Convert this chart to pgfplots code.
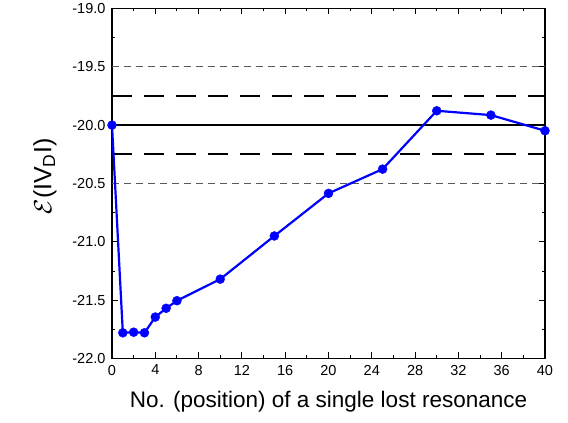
\documentclass[border=0pt]{standalone}
\usepackage{pgfplots}
\pgfplotsset{compat=1.18}
\usepackage{fontspec}
\setmainfont{Liberation Sans}
\begin{document}
\begin{tikzpicture}[x=1pt,y=1pt]
\begin{axis}[
  name=ax,
  scale only axis,
  width=433pt, height=350pt,
  xmin=0, xmax=40, ymin=-22, ymax=-19,
  xtick={0,4,...,40},
  minor xtick={2,6,...,38},
  ytick={-22,-21.5,...,-19},
  minor ytick={-21.75,-21.25,...,-19.25},
  tick align=inside,
  major tick length=6pt,
  minor tick length=3pt,
  every tick/.style={black, line width=0.9pt},
  axis line style={line width=1.2pt},
  /pgf/number format/assume math mode=true,
  yticklabel style={xshift=-3pt, /pgf/number format/fixed, /pgf/number format/fixed zerofill, /pgf/number format/precision=1},
  xticklabel style={yshift=-3pt, /pgf/number format/fixed},
  tick label style={font=\fontsize{14.5}{16}\selectfont},
  xlabel={No. (position) of a single lost resonance},
  ylabel={$\mathcal{E}$(IV\textsubscript{D}I)},
  xlabel style={font=\fontsize{22.5}{25}\selectfont, yshift=-9pt},
  ylabel style={font=\fontsize{25}{27}\selectfont, xshift=7pt, yshift=9pt},
  clip=true,
]
\addplot[gray!70!black, line width=0.8pt, dash pattern=on 7pt off 5pt] coordinates {(0,-19.5) (40,-19.5)};
\addplot[gray!70!black, line width=0.8pt, dash pattern=on 7pt off 5pt] coordinates {(0,-20.5) (40,-20.5)};
\addplot[black, line width=2.2pt, dash pattern=on 20pt off 12pt] coordinates {(0,-19.75) (40,-19.75)};
\addplot[black, line width=2.2pt, dash pattern=on 20pt off 12pt] coordinates {(0,-20.25) (40,-20.25)};
\addplot[black, line width=1.8pt] coordinates {(0,-20) (40,-20)};
\addplot[blue, line width=2.2pt, mark=*, mark size=4.5pt, mark options={solid, fill=blue, draw=blue, line width=0.4pt}] coordinates {
(0,-20.0) (1,-21.78) (2,-21.775) (3,-21.78) (4,-21.645) (5,-21.57) (6,-21.505)
(10,-21.32) (15,-20.95) (20,-20.585) (25,-20.377) (30,-19.877) (35,-19.914) (40,-20.048)
};
\end{axis}
\path (ax.south west) ++(-112pt,-64pt) rectangle ++(568pt,421pt);
\end{tikzpicture}
\end{document}
